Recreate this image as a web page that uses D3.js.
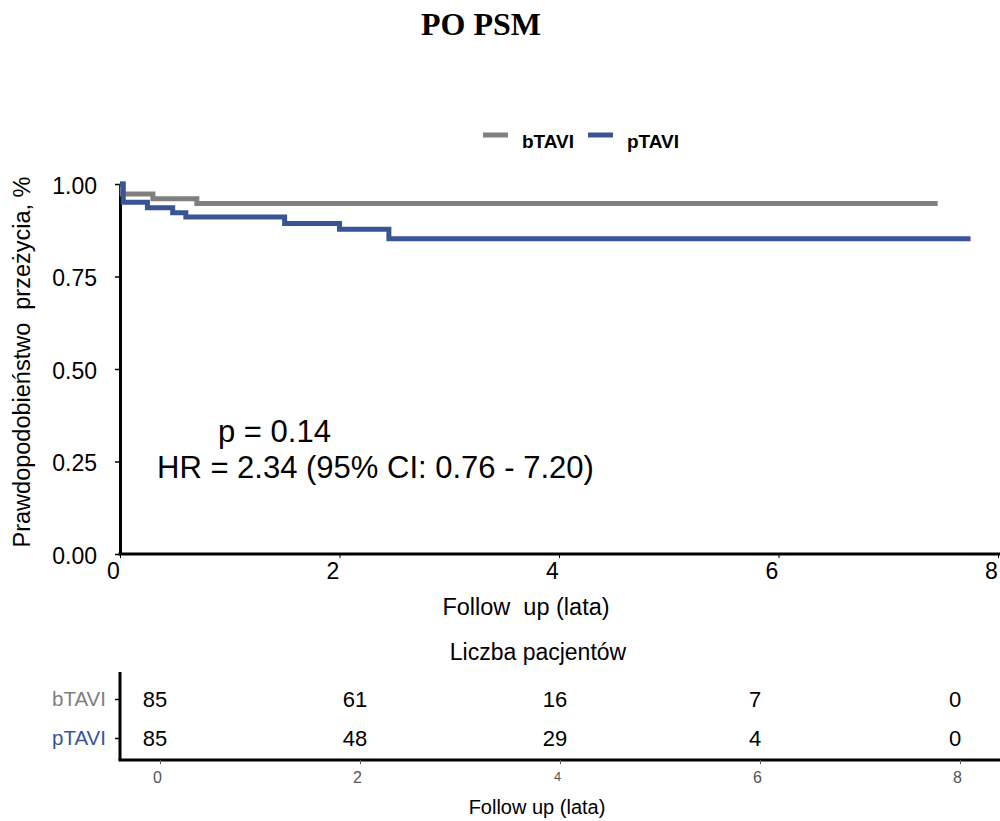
<!DOCTYPE html>
<html><head><meta charset="utf-8">
<script src="https://cdn.jsdelivr.net/npm/d3@7"></script>
<style>body{margin:0;background:#fff}text{font-family:"Liberation Sans",Arial,sans-serif}</style>
</head><body><svg id="c" width="1000" height="821"></svg>
<script>
const groups = ["bTAVI", "pTAVI"];
const colors = ["#7f7f7f", "#3a5597"];
const bTimes = [0, 0.02, 0.30, 0.70, 7.45];
const bSurv  = [1, 0.973, 0.960, 0.947, 0.947];
const pTimes = [0, 0.03, 0.25, 0.48, 0.60, 1.50, 2.00, 2.45, 7.75];
const pSurv  = [1, 0.951, 0.936, 0.922, 0.911, 0.893, 0.878, 0.852, 0.852];
const yTicks = [0, 0.25, 0.5, 0.75, 1];
const xTicks = [0, 2, 4, 6, 8];
const riskTimes = [0, 2, 4, 6, 8];
const bRisk = [85, 61, 16, 7, 0];
const pRisk = [85, 48, 29, 4, 0];

const svg = d3.select("#c");
const x = d3.scaleLinear().domain([0, 8]).range([120, 998]);
const y = d3.scaleLinear().domain([0, 1]).range([554, 184]);

// title
svg.append("text").attr("x", 481).attr("y", 35).attr("text-anchor", "middle")
  .style("font-family", '"Liberation Serif","Times New Roman",serif').style("font-weight", "bold").style("font-size", "32px").text("PO PSM");

// legend
const lg = [[483, 522], [588, 627]];
groups.forEach((g, i) => {
  svg.append("line").attr("x1", lg[i][0]).attr("x2", lg[i][0] + 25).attr("y1", 135).attr("y2", 135)
    .attr("stroke", colors[i]).attr("stroke-width", 5);
  svg.append("text").attr("x", lg[i][1]).attr("y", 148).style("font-weight", "bold").style("font-size", "19px").text(g);
});

// axes
const ya = svg.append("g").attr("transform", "translate(120,0)")
  .call(d3.axisLeft(y).tickValues(yTicks).tickFormat(d3.format(".2f")).tickSize(5).tickSizeOuter(0).tickPadding(18));
ya.select(".domain").attr("stroke-width", 3);
ya.selectAll("text").style("font-size", "23px").attr("dy", "0.4em").attr("fill", "#000");
ya.selectAll(".tick line").attr("stroke-width", 1.5);

const xa = svg.append("g").attr("transform", "translate(0,554)")
  .call(d3.axisBottom(x).tickValues(xTicks).tickSize(4).tickSizeOuter(0).tickPadding(5));
xa.select(".domain").attr("d", "M118.5,0H1000").attr("stroke-width", 3);
xa.selectAll("text").style("font-size", "23px").attr("dx", "-7").attr("fill", "#000");
xa.selectAll(".tick line").attr("stroke-width", 1);

svg.append("text").attr("transform", "translate(30,362) rotate(-90)").attr("text-anchor", "middle")
  .style("font-size", "23.5px").style("white-space", "pre").text("Prawdopodobieństwo  przeżycia, %");
svg.append("text").attr("x", 526).attr("y", 615).attr("text-anchor", "middle")
  .style("font-size", "23.5px").style("white-space", "pre").text("Follow  up (lata)");

// curves
const line = d3.line().x(d => x(d[0])).y(d => y(d[1])).curve(d3.curveStepAfter);
[[bTimes, bSurv], [pTimes, pSurv]].forEach((s, i) => {
  svg.append("path").attr("d", line(s[0].map((t, k) => [t, s[1][k]])))
    .attr("fill", "none").attr("stroke", colors[i]).attr("stroke-width", 5);
});

// annotation
svg.append("text").attr("x", 218).attr("y", 442).style("font-size", "31px").text("p = 0.14");
svg.append("text").attr("x", 157).attr("y", 478).style("font-size", "31px").text("HR = 2.34 (95% CI: 0.76 - 7.20)");

// risk table
svg.append("text").attr("x", 538).attr("y", 660).attr("text-anchor", "middle").style("font-size", "23px").text("Liczba pacjentów");
const tx = d3.scaleLinear().domain([0, 8]).range([160, 960]);
const ty = d3.scalePoint().domain(groups).range([699, 738]);
const tya = svg.append("g").attr("transform", "translate(120,0)")
  .call(d3.axisLeft(ty).tickSize(5).tickSizeOuter(0).tickPadding(9));
tya.select(".domain").attr("d", "M0,672V760").attr("stroke-width", 3);
tya.selectAll("text").style("font-size", "20.5px").attr("fill", (d, i) => colors[i]);
tya.selectAll(".tick line").attr("stroke-width", 1.5);
const txa = svg.append("g").attr("transform", "translate(0,760)")
  .call(d3.axisBottom(tx).tickValues(riskTimes).tickSize(4).tickSizeOuter(0).tickPadding(8));
txa.select(".domain").attr("d", "M118.5,0H1000").attr("stroke-width", 3);
txa.selectAll("text").style("font-size", d => d === 4 ? "13px" : "16px").attr("dx", "-3").attr("fill", "#555");
txa.selectAll(".tick line").attr("stroke", "#555");
[bRisk, pRisk].forEach((r, i) => {
  svg.append("g").selectAll("text").data(r).join("text")
    .attr("x", (d, k) => tx(riskTimes[k]) - 5).attr("y", ty(groups[i])).attr("dy", "0.36em")
    .attr("text-anchor", "middle").style("font-size", "22px").text(d => d);
});
svg.append("text").attr("x", 537).attr("y", 814).attr("text-anchor", "middle")
  .style("font-size", "20px").text("Follow up (lata)");
</script></body></html>
